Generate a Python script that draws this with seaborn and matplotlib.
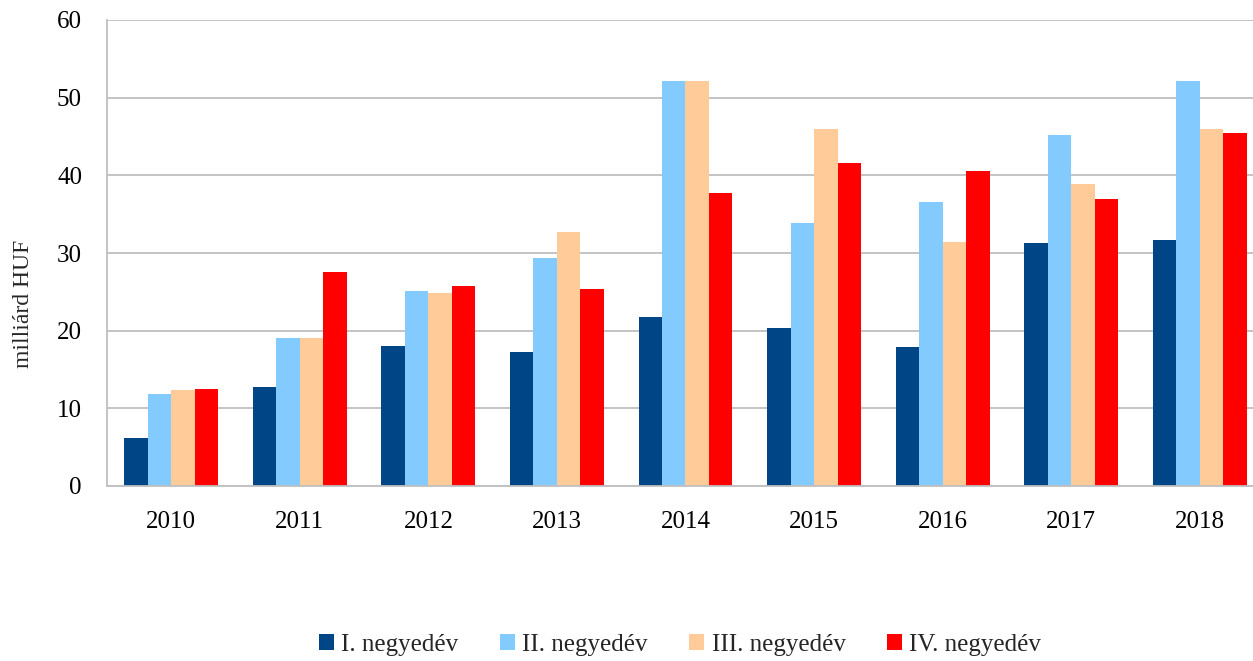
import pandas as pd
import matplotlib.pyplot as plt
import seaborn as sns

# adatok (leolvasva az ábráról)
years = ["2010", "2011", "2012", "2013", "2014", "2015", "2016", "2017", "2018"]
quarters = ["I. negyedév", "II. negyedév", "III. negyedév", "IV. negyedév"]
q1 = [6.2, 12.7, 18.0, 17.3, 21.8, 20.4, 17.9, 31.3, 31.7]
q2 = [11.8, 19.1, 25.1, 29.3, 52.1, 33.8, 36.6, 45.2, 52.1]
q3 = [12.3, 19.1, 24.9, 32.7, 52.1, 46.0, 31.4, 38.9, 46.0]
q4 = [12.5, 27.5, 25.8, 25.4, 37.7, 41.6, 40.5, 36.9, 45.5]
colors = ["#004586", "#83CAFF", "#FFCC99", "#FF0000"]

rows = []
for q, vals in zip(quarters, [q1, q2, q3, q4]):
    for y, v in zip(years, vals):
        rows.append({"ev": y, "negyedev": q, "ertek": v})
df = pd.DataFrame(rows)

sns.set_style("white")
plt.rcParams["font.family"] = ["Liberation Serif", "DejaVu Serif"]

fig = plt.figure(figsize=(12.53, 6.61), dpi=100)
ax = fig.add_axes([107 / 1253, 1 - 486 / 661, (1264 - 107) / 1253, (486 - 20) / 661])

sns.barplot(data=df, x="ev", y="ertek", hue="negyedev", hue_order=quarters,
            palette=colors, width=0.73, gap=0, saturation=1,
            edgecolor="none", ax=ax, legend=True)

ax.set_ylim(0, 60)
ax.set_xlim(-0.5, 8.5)
ax.set_yticks(range(0, 61, 10))
ax.yaxis.grid(True, color="#BFBFBF", linewidth=1.3)
ax.set_axisbelow(True)
for s in ["top", "right"]:
    ax.spines[s].set_visible(False)
for s in ["left", "bottom"]:
    ax.spines[s].set_color("#BFBFBF")
    ax.spines[s].set_linewidth(1.3)
ax.tick_params(axis="both", length=0, labelsize=18, colors="black")
ax.tick_params(axis="x", pad=18)
ax.tick_params(axis="y", pad=18)
ax.set_xlabel("")
ax.set_ylabel("milliárd HUF", fontsize=17)
ax.yaxis.set_label_coords(-0.063, 0.39)

handles, labels = ax.get_legend_handles_labels()
ax.legend(handles, labels, loc="center", bbox_to_anchor=(680 / 1253, 1 - 645 / 661),
          bbox_transform=fig.transFigure, ncol=4, frameon=False, fontsize=18,
          handlelength=0.6, handleheight=0.6, handletextpad=0.3, columnspacing=1.65)

fig.savefig("out.png", dpi=100)
